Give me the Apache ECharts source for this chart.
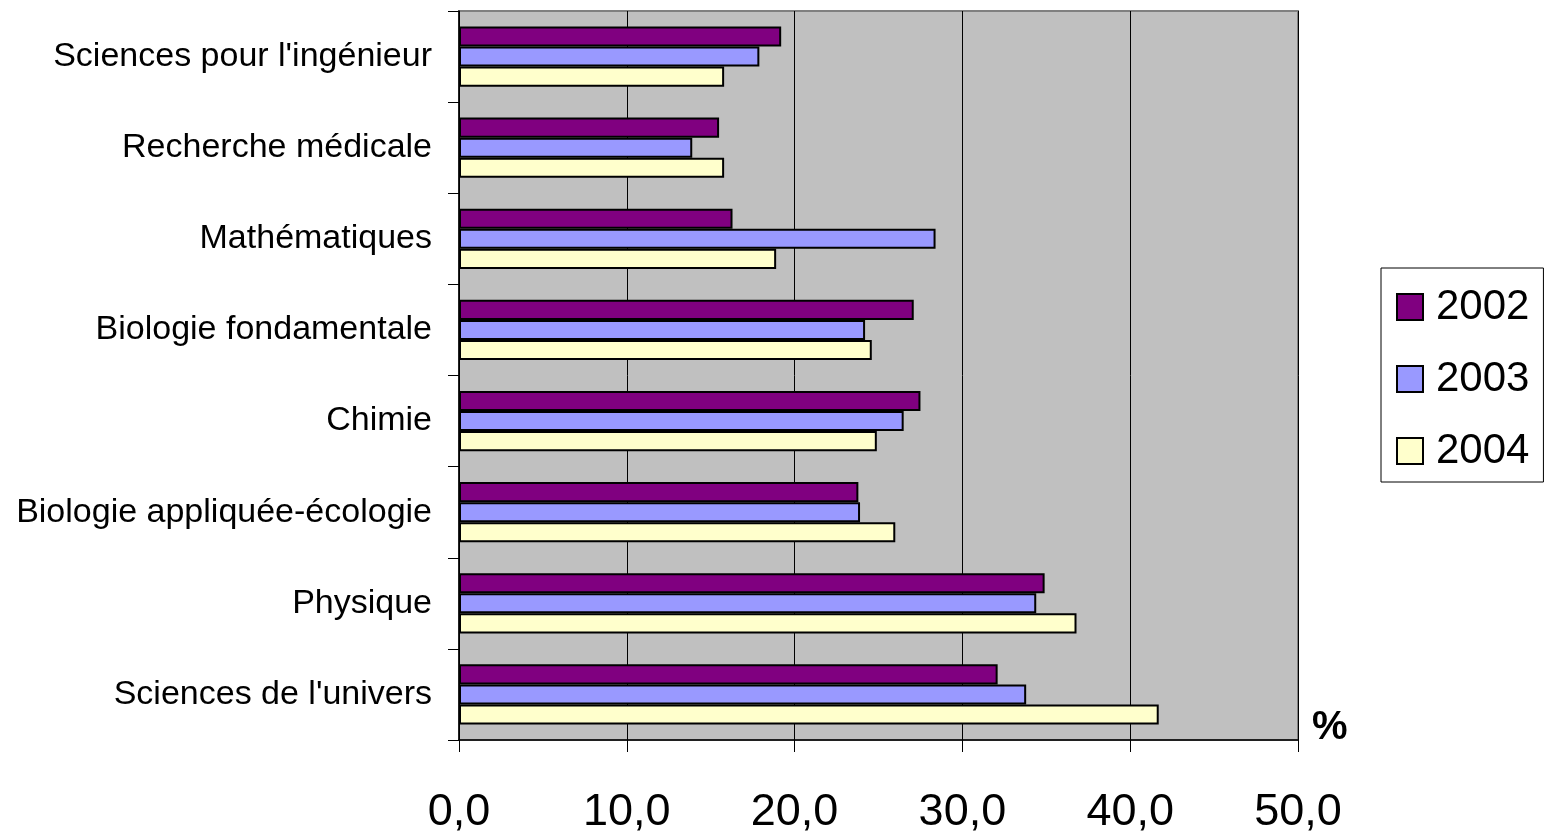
<!DOCTYPE html>
<html>
<head>
<meta charset="utf-8">
<script src="https://cdn.jsdelivr.net/npm/echarts@6/dist/echarts.min.js"></script>
<style>
html,body{margin:0;padding:0;background:#fff;}
#chart{width:1545px;height:838px;}
</style>
</head>
<body>
<div id="chart"></div>
<script>
const categories = ["Sciences pour l'ingénieur", "Recherche médicale", "Mathématiques", "Biologie fondamentale", "Chimie", "Biologie appliquée-écologie", "Physique", "Sciences de l'univers"];
const seriesNames = ["2002", "2003", "2004"];
const values2002 = [19.2, 15.5, 16.3, 27.1, 27.5, 23.8, 34.9, 32.1];
const values2003 = [17.9, 13.9, 28.4, 24.2, 26.5, 23.9, 34.4, 33.8];
const values2004 = [15.8, 15.8, 18.9, 24.6, 24.9, 26.0, 36.8, 41.7];
const xTickLabels = ["0,0", "10,0", "20,0", "30,0", "40,0", "50,0"];
const colors = ["#800080", "#9999FF", "#FFFFCC"];

const font = "Liberation Sans, Arial, sans-serif";
const chart = echarts.init(document.getElementById('chart'));
const allValues = [values2002, values2003, values2004];
chart.setOption({
  animation: false,
  backgroundColor: '#ffffff',
  grid: {
    left: 459, right: 247, top: 11, bottom: 98,
    show: true, backgroundColor: '#C0C0C0', borderColor: '#808080', borderWidth: 2
  },
  legend: {
    orient: 'vertical',
    left: 1381, top: 268,
    padding: [18, 14, 10, 15],
    itemGap: 30,
    itemWidth: 26, itemHeight: 26,
    icon: 'rect',
    borderColor: '#000', borderWidth: 1,
    backgroundColor: '#fff',
    textStyle: { fontFamily: font, fontSize: 42, lineHeight: 42, color: '#000', padding: [0, 0, 0, 8] },
    itemStyle: { borderColor: '#000', borderWidth: 2 },
    data: seriesNames
  },
  xAxis: {
    type: 'value', min: 0, max: 50, interval: 10,
    axisLine: { show: true, lineStyle: { color: '#000', width: 1.5 } },
    axisTick: { show: true, length: 12, lineStyle: { color: '#000' } },
    splitLine: { show: true, lineStyle: { color: '#000', width: 1 } },
    axisLabel: {
      fontFamily: font, fontSize: 45, color: '#000', margin: 50,
      formatter: v => xTickLabels[Math.round(v / 10)]
    }
  },
  yAxis: {
    type: 'category', data: categories, inverse: true,
    axisLine: { show: true, lineStyle: { color: '#000', width: 1.5 } },
    axisTick: { show: true, length: 11, inside: false, lineStyle: { color: '#000' } },
    axisLabel: { fontFamily: font, fontSize: 34, color: '#000', margin: 27 }
  },
  graphic: [{
    type: 'text', left: 1312, top: 708,
    style: { text: '%', fontFamily: font, fontSize: 40, fontWeight: 'bold', fill: '#000' }
  }],
  series: seriesNames.map((name, i) => ({
    name: name,
    type: 'bar',
    data: allValues[i],
    barGap: '0%',
    barCategoryGap: '34%',
    itemStyle: { color: colors[i], borderColor: '#000', borderWidth: 2 }
  }))
});
</script>
</body>
</html>
